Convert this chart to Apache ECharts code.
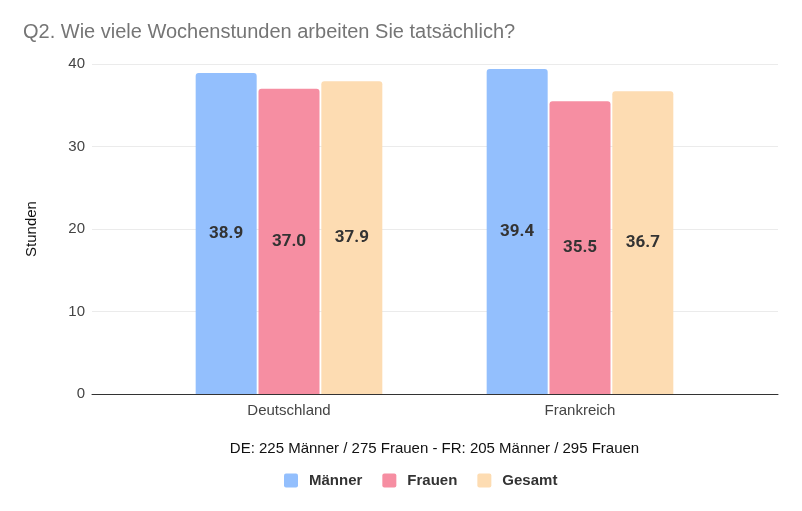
<!DOCTYPE html>
<html>
<head>
<meta charset="utf-8">
<script src="https://cdn.jsdelivr.net/npm/echarts@6/dist/echarts.min.js"></script>
<style>html,body{margin:0;padding:0;background:#fff;}#c{width:802px;height:511px;}</style>
</head>
<body>
<div id="c"></div>
<script>
var categories = ['Deutschland', 'Frankreich'];
var maenner = [38.9, 39.4];
var frauen = [37.0, 35.5];
var gesamt = [37.9, 36.7];
var seriesNames = ['Männer', 'Frauen', 'Gesamt'];
var yTicks = [0, 10, 20, 30, 40];

var colors = ['#93bffd', '#f68ea2', '#fddcb2'];
var chart = echarts.init(document.getElementById('c'), null, {renderer: 'canvas'});
var labelStyle = {show: true, position: 'inside', fontFamily: 'Roboto', fontWeight: 'bold', fontSize: 17, color: '#333', formatter: function(p){return p.value.toFixed(1);}};
function mk(name, data, i) {
  return {
    name: name, type: 'bar', xAxisIndex: 1, yAxisIndex: 1, data: data,
    barWidth: 61, barGap: '3%',
    itemStyle: {color: colors[i], borderRadius: [3, 3, 0, 0]},
    label: labelStyle
  };
}
var sqIcon = 'path://M2,0 H12 A2,2 0 0 1 14,2 V12 A2,2 0 0 1 12,14 H2 A2,2 0 0 1 0,12 V2 A2,2 0 0 1 2,0 Z';
chart.setOption({
  animation: false,
  color: colors,
  title: {
    text: 'Q2. Wie viele Wochenstunden arbeiten Sie tatsächlich?',
    left: 18, top: 17,
    textStyle: {fontFamily: 'Liberation Sans, Arial', fontSize: 20, fontWeight: 'normal', color: '#757575'}
  },
  legend: {
    data: seriesNames,
    top: 468, left: 279,
    itemWidth: 14, itemHeight: 14, itemGap: 20,
    icon: sqIcon,
    textStyle: {fontFamily: 'Liberation Sans, Arial', fontWeight: 'bold', fontSize: 15, color: '#333', padding: [0, 0, 0, 6]}
  },
  grid: [
    {left: 92, right: 24, top: 64, bottom: 117},
    {left: 143.5, right: 76.5, top: 64, bottom: 117}
  ],
  xAxis: [
    {type: 'category', gridIndex: 0, data: [''], axisLine: {show: true, lineStyle: {color: '#333', width: 1}}, axisTick: {show: false}, axisLabel: {show: false}},
    {type: 'category', gridIndex: 1, data: categories, axisLine: {show: false}, axisTick: {show: false},
     axisLabel: {margin: 9, fontFamily: 'Liberation Sans, Arial', fontSize: 15, color: '#444'},
     name: 'DE: 225 Männer / 275 Frauen - FR: 205 Männer / 295 Frauen', nameLocation: 'middle', nameGap: 47,
     nameTextStyle: {fontFamily: 'Liberation Sans, Arial', fontSize: 15, color: '#111'}}
  ],
  yAxis: [
    {type: 'value', gridIndex: 0, min: yTicks[0], max: yTicks[yTicks.length - 1], interval: 10,
     axisLine: {show: false}, axisTick: {show: false},
     axisLabel: {margin: 7, fontFamily: 'Liberation Sans, Arial', fontSize: 15, color: '#444'},
     splitLine: {lineStyle: {color: '#ebebeb'}},
     name: 'Stunden', nameLocation: 'middle', nameGap: 53,
     nameTextStyle: {fontFamily: 'Liberation Sans, Arial', fontSize: 15, color: '#111'}},
    {type: 'value', gridIndex: 1, min: 0, max: 40, interval: 10, show: false}
  ],
  series: [
    mk(seriesNames[0], maenner, 0),
    mk(seriesNames[1], frauen, 1),
    mk(seriesNames[2], gesamt, 2)
  ]
});
</script>
</body>
</html>
